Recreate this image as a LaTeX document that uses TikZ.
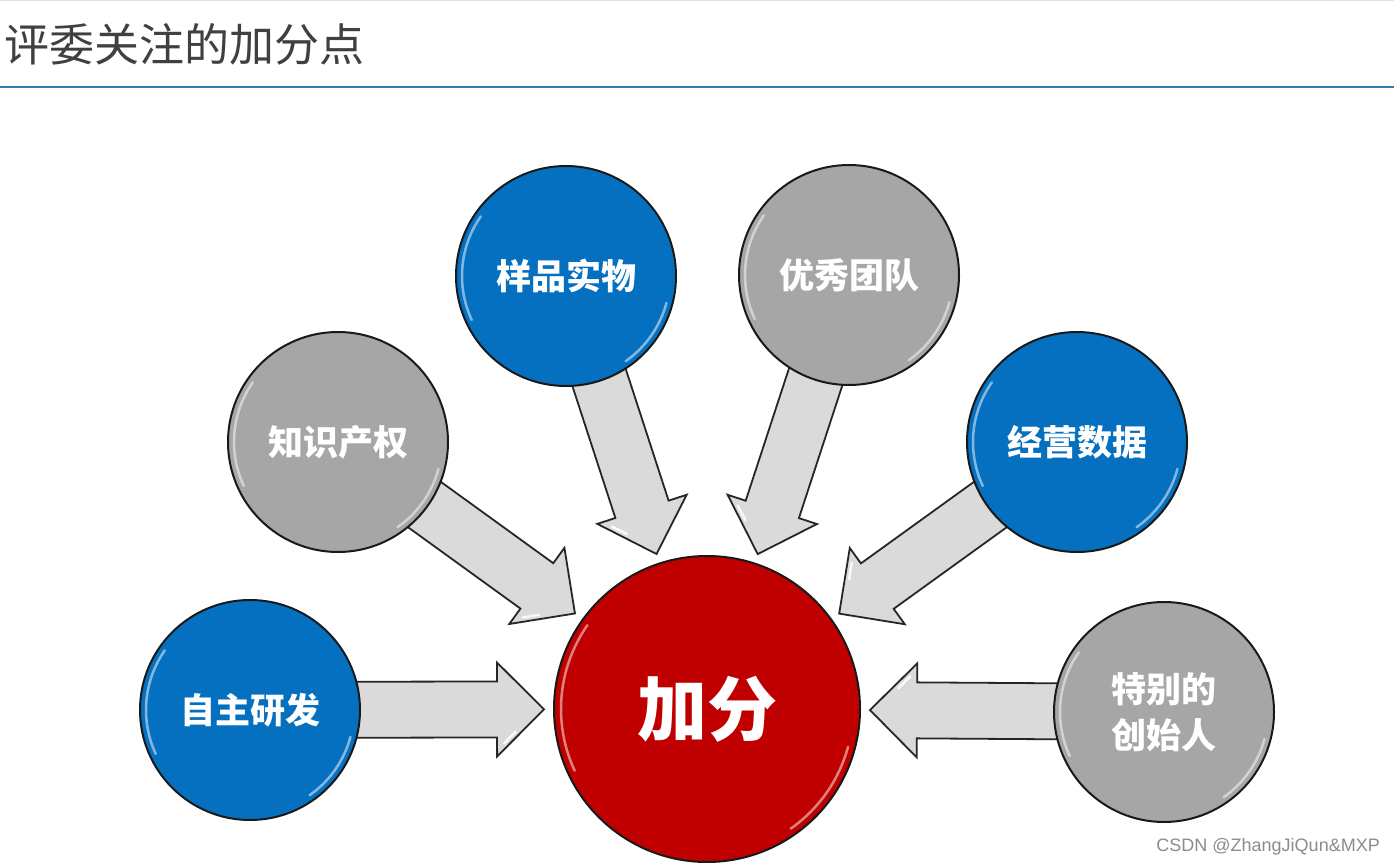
\documentclass[tikz,border=0pt]{standalone}
\usepackage{fontspec}
\newfontfamily\cjk{Noto Sans CJK SC}
\newfontfamily\wm{Liberation Sans}
\usetikzlibrary{calc}
\pgfdeclarelayer{bg}
\pgfsetlayers{bg,main}
\definecolor{cblue}{RGB}{5,112,192}
\definecolor{cgray}{RGB}{166,166,166}
\definecolor{cred}{RGB}{192,0,0}
\definecolor{carrow}{RGB}{218,218,218}
\definecolor{ctitle}{RGB}{64,64,64}
\definecolor{cline}{RGB}{52,124,165}
\tikzset{
  ball/.style={circle, draw=black!90, line width=2pt, minimum size=220pt, inner sep=0pt,
    text=white, align=center, font=\cjk\bfseries\fontsize{35}{46}\selectfont},
  bigball/.style={ball, minimum size=306pt, font=\cjk\bfseries\fontsize{70}{70}\selectfont},
  arrowbox/.style={fill=carrow, draw=black!85, line width=1.8pt, line join=miter},
  glare/.style={white, line width=2.5pt, opacity=0.5, line cap=round},
}
\newcommand\shine[2]{%
  \draw[glare] ($(#1.center)+(145:#2)$) arc[start angle=145, end angle=205, radius=#2];
  \draw[glare] ($(#1.center)+(-15:#2)$) arc[start angle=-15, end angle=-55, radius=#2];
}
\newcommand\blockarr[2]{%
  \path ($(#2.center)!163pt!(#1.center)$) coordinate (T)
        ($(#2.center)!210pt!(#1.center)$) coordinate (B);
  \draw[arrowbox] ($(#1.center)!28pt!90:(#2.center)$) -- ($(B)!28pt!90:(T)$)
     -- ($(B)!47pt!90:(T)$) -- (T) -- ($(B)!47pt!-90:(T)$)
     -- ($(B)!28pt!-90:(T)$) -- ($(#1.center)!28pt!-90:(#2.center)$) -- cycle;
  \draw[white, line width=2.5pt, opacity=0.85, line cap=round]
     ($(B)!0.15!(T)!34pt!-90:(T)$) -- ($(B)!0.4!(T)!22pt!-90:(T)$);
}
\begin{document}
\begin{tikzpicture}[x=1pt, y=-1pt]
\useasboundingbox (0,0) rectangle (1394,866);
\draw[black!12, line width=1pt] (0,1) -- (1394,1);
\node[anchor=west, text=ctitle, font=\cjk\fontsize{45}{45}\selectfont, inner sep=0pt] (title) at (4,44) {评委关注的加分点};
\draw[cline, line width=2.5pt] (0,87) -- (1394,87);

\node[bigball, fill=cred] (plus) at (707,709) {加分};
\node[ball, fill=cblue] (zz) at (250,710) {自主研发};
\node[ball, fill=cgray] (zs) at (338,442) {知识产权};
\node[ball, fill=cblue] (yp) at (566,276) {样品实物};
\node[ball, fill=cgray] (yx) at (849,275) {优秀团队};
\node[ball, fill=cblue] (jy) at (1077,442) {经营数据};
\node[ball, fill=cgray] (tb) at (1164,712) {特别的\\创始人};

\shine{plus}{146pt}
\shine{zz}{104pt}
\shine{zs}{104pt}
\shine{yp}{104pt}
\shine{yx}{104pt}
\shine{jy}{104pt}
\shine{tb}{104pt}

\begin{pgfonlayer}{bg}
\fill[white] (0,0) rectangle (1394,866);
\blockarr{zz}{plus}
\blockarr{zs}{plus}
\blockarr{yp}{plus}
\blockarr{yx}{plus}
\blockarr{jy}{plus}
\blockarr{tb}{plus}
\end{pgfonlayer}

\node[anchor=east, text=black!45, font=\wm\fontsize{18}{18}\selectfont, inner sep=0pt] (wm) at (1380,847) {CSDN @ZhangJiQun\&MXP};
\end{tikzpicture}
\end{document}
